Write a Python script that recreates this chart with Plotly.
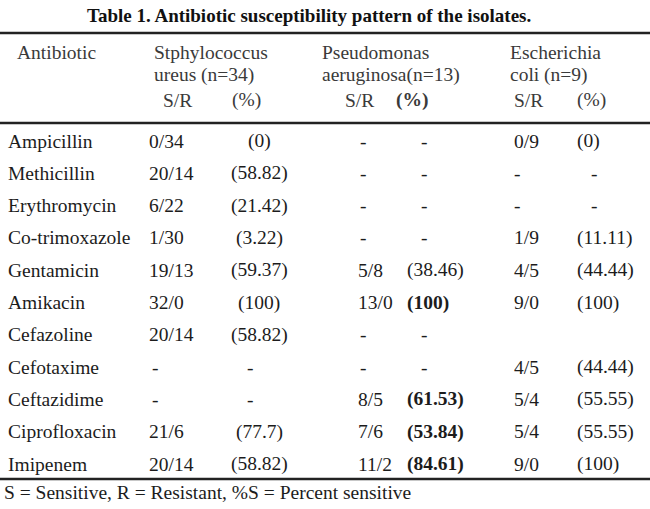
import plotly.graph_objects as go

title = "Table 1. Antibiotic susceptibility pattern of the isolates."
footnote = "S = Sensitive, R = Resistant, %S = Percent sensitive"
antibiotics = ["Ampicillin", "Methicillin", "Erythromycin", "Co-trimoxazole", "Gentamicin",
               "Amikacin", "Cefazoline", "Cefotaxime", "Ceftazidime", "Ciprofloxacin", "Imipenem"]
staph_sr = ["0/34", "20/14", "6/22", "1/30", "19/13", "32/0", "20/14", "-", "-", "21/6", "20/14"]
staph_pct = ["(0)", "(58.82)", "(21.42)", "(3.22)", "(59.37)", "(100)", "(58.82)", "-", "-", "(77.7)", "(58.82)"]
pseudo_sr = ["-", "-", "-", "-", "5/8", "13/0", "-", "-", "8/5", "7/6", "11/2"]
pseudo_pct = ["-", "-", "-", "-", "(38.46)", "(100)", "-", "-", "(61.53)", "(53.84)", "(84.61)"]
ecoli_sr = ["0/9", "-", "-", "1/9", "4/5", "9/0", "", "4/5", "5/4", "5/4", "9/0"]
ecoli_pct = ["(0)", "-", "-", "(11.11)", "(44.44)", "(100)", "", "(44.44)", "(55.55)", "(55.55)", "(100)"]
header_line1 = ["Antibiotic", "Stphylococcus", "Pseudomonas", "Escherichia"]
header_line2 = ["", "ureus (n=34)", "aeruginosa(n=13)", "coli (n=9)"]
sub_headers = ["S/R", "(%)", "S/R", "(%)", "S/R", "(%)"]

# ---- styling / layout ----
W, H = 650, 509
ROW0, ROWH = 141, 32.3          # pixel centre of first body row, row pitch
FONT = "Liberation Serif"
FS = 19.5
TXT = "#1c1c1c"
HDR = "#3a3a3a"


def row_of(py):
    return (py - ROW0) / ROWH


# column specs: (values, x anchor, anchor mode, dash x, bold flags)
columns = [
    (antibiotics, 6, "left", None, None),
    (staph_sr, 147, "left", 150, None),
    (staph_pct, 259, "center", 245, None),
    (pseudo_sr, 356, "left", 358, None),
    (pseudo_pct, 405, "left", 419, [False, False, False, False, False, True, False, False, True, True, True]),
    (ecoli_sr, 512, "left", 512, None),
    (ecoli_pct, 575, "left", 589, None),
]
head1_x = [15, 152, 320, 508]
sub_x = [161, 230, 343, 394, 512, 575]
sub_bold = [False, False, False, True, False, False]

fig = go.Figure()
fig.add_trace(go.Scatter(x=[0, W], y=[row_of(0), row_of(H)], mode="markers",
                         marker=dict(opacity=0), hoverinfo="skip", showlegend=False))

ann = []
# title
ann.append(dict(text="<b>%s</b>" % title, x=309, y=row_of(15), xanchor="center", yanchor="middle",
                font=dict(family=FONT, size=19, color="#111")))
# header lines
for t, x in zip(header_line1, head1_x):
    ann.append(dict(text=t, x=x, y=row_of(52), xanchor="left", yanchor="middle",
                    font=dict(family=FONT, size=FS, color=HDR)))
for t, x in zip(header_line2, head1_x):
    if t:
        ann.append(dict(text=t, x=x, y=row_of(75), xanchor="left", yanchor="middle",
                        font=dict(family=FONT, size=FS, color=HDR)))
for t, x, b in zip(sub_headers, sub_x, sub_bold):
    ann.append(dict(text=("<b>%s</b>" % t) if b else t, x=x, y=row_of(100), xanchor="left",
                    yanchor="middle", font=dict(family=FONT, size=FS, color=HDR)))
# body
for vals, x, mode, dash_x, bold in columns:
    for i, v in enumerate(vals):
        if not v:
            continue
        if v == "-":
            xx, anchor = dash_x, "left"
        else:
            xx, anchor = x, mode
        txt = "<b>%s</b>" % v if (bold and bold[i]) else v
        ann.append(dict(text=txt, x=xx, y=i, xanchor=anchor, yanchor="middle",
                        font=dict(family=FONT, size=FS, color=TXT)))
# footnote
ann.append(dict(text=footnote, x=2, y=row_of(492), xanchor="left", yanchor="middle",
                font=dict(family=FONT, size=FS, color=TXT)))
for a in ann:
    a.update(xref="x", yref="y", showarrow=False)

shapes = []
for py, w in [(33, 2.5), (123, 2.5), (479, 2.5)]:
    shapes.append(dict(type="line", xref="paper", yref="y", x0=0, x1=1, y0=row_of(py), y1=row_of(py),
                       line=dict(color="#222", width=w)))

fig.update_layout(
    width=W, height=H, margin=dict(l=0, r=0, t=0, b=0),
    paper_bgcolor="white", plot_bgcolor="white",
    xaxis=dict(range=[0, W], visible=False, fixedrange=True),
    yaxis=dict(range=[row_of(H), row_of(0)], visible=False, fixedrange=True),
    annotations=ann, shapes=shapes, showlegend=False,
)
fig.write_html("out.html", config={"displayModeBar": False},
               post_script="document.body.style.margin='0';document.body.style.overflow='hidden';")
